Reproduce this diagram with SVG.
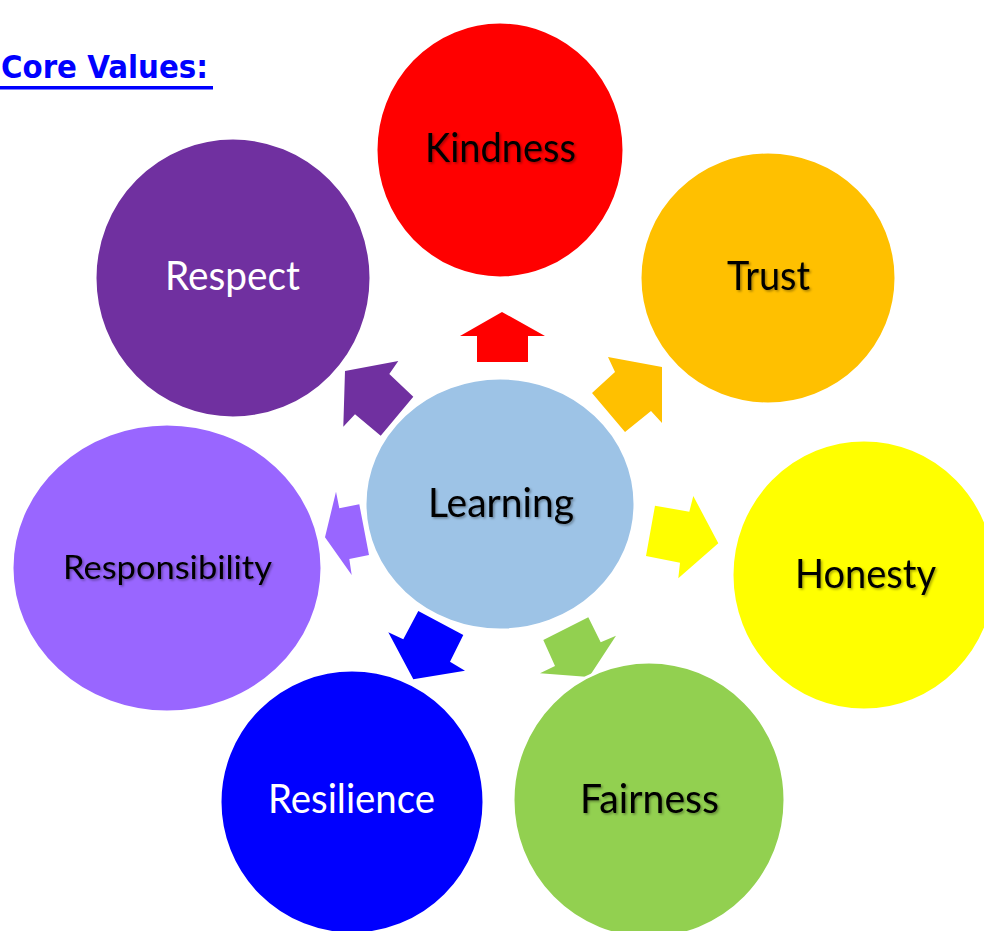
<svg xmlns="http://www.w3.org/2000/svg" width="984" height="931" viewBox="0 0 984 931">
<defs>
<filter id="sh" x="-10%" y="-30%" width="120%" height="160%">
<feDropShadow dx="1.5" dy="1.5" stdDeviation="1" flood-color="#000" flood-opacity="0.35"/>
</filter>
</defs>
<style>
.c{stroke:#fff;stroke-width:3}
.t{font-family:Lato,"Open Sans","Liberation Sans",sans-serif;font-size:40px;fill:#000;filter:url(#sh)}
.w{fill:#fff;filter:none}
.title{font-family:"DejaVu Sans","Liberation Sans",sans-serif;font-weight:bold;font-size:32px;fill:#0000ff}
</style>
<rect width="984" height="931" fill="#fff"/>
<g id="title">
<text class="title" x="1" y="78" textLength="207" lengthAdjust="spacingAndGlyphs">Core Values:</text>
<rect x="0" y="86" width="213" height="3.5" fill="#0000ff"/>
</g>
<g id="connectors">
<polygon fill="#ff0000" points="460,336 502,312 545,336 528,336 528,362 477,362 477,336"/>
<polygon fill="#ffc000" points="608,357 662,367 662,423 651,411 625,432 592,393 615,372"/>
<polygon fill="#ffff00" points="655,505.7 689.3,511.7 693.3,496 718.3,543.3 678.3,578.3 680,562.7 646,556"/>
<polygon fill="#92d050" points="543.3,640 588.3,617.3 600.7,642.3 616,635.7 589,677 540,673.3 555,666"/>
<polygon fill="#0000ff" points="418.3,611 463.3,635 450,661.7 465,670.7 413.3,679.3 388.3,632.3 403.3,639.3"/>
<polygon fill="#9966ff" points="336,491.7 339.3,508.3 359.3,504.3 369,555 349.3,559 351.7,575 325,537.3"/>
<polygon fill="#7030a0" points="345,371 398.3,361 389.3,374 413.3,396.7 380.7,435.7 355,414.3 343.3,426.7"/>
</g>
<g id="kindness">
<ellipse class="c" cx="500" cy="150" rx="124" ry="128" fill="#ff0000"/>
<text class="t" x="425" y="162" textLength="151" lengthAdjust="spacingAndGlyphs">Kindness</text>
</g>
<g id="trust">
<ellipse class="c" cx="768" cy="278" rx="128" ry="126" fill="#ffc000"/>
<text class="t" x="727" y="290" textLength="83" lengthAdjust="spacingAndGlyphs">Trust</text>
</g>
<g id="respect">
<ellipse class="c" cx="233" cy="278" rx="138" ry="140" fill="#7030a0"/>
<text class="t w" x="165" y="290" textLength="135" lengthAdjust="spacingAndGlyphs">Respect</text>
</g>
<g id="learning">
<ellipse class="c" cx="500" cy="504" rx="135" ry="126" fill="#9dc3e6"/>
<text class="t" x="428" y="517" textLength="146" lengthAdjust="spacingAndGlyphs">Learning</text>
</g>
<g id="responsibility">
<ellipse class="c" cx="167" cy="568" rx="155" ry="144" fill="#9966ff"/>
<text class="t" x="63" y="579" style="font-size:32px" textLength="209" lengthAdjust="spacingAndGlyphs">Responsibility</text>
</g>
<g id="honesty">
<ellipse class="c" cx="864" cy="575" rx="132" ry="135" fill="#ffff00"/>
<text class="t" x="795" y="588" textLength="141" lengthAdjust="spacingAndGlyphs">Honesty</text>
</g>
<g id="resilience">
<ellipse class="c" cx="352" cy="802" rx="132" ry="132" fill="#0000ff"/>
<text class="t w" x="268" y="813" textLength="167" lengthAdjust="spacingAndGlyphs">Resilience</text>
</g>
<g id="fairness">
<ellipse class="c" cx="649" cy="800" rx="136" ry="138" fill="#92d050"/>
<text class="t" x="580" y="813" textLength="139" lengthAdjust="spacingAndGlyphs">Fairness</text>
</g>
</svg>
